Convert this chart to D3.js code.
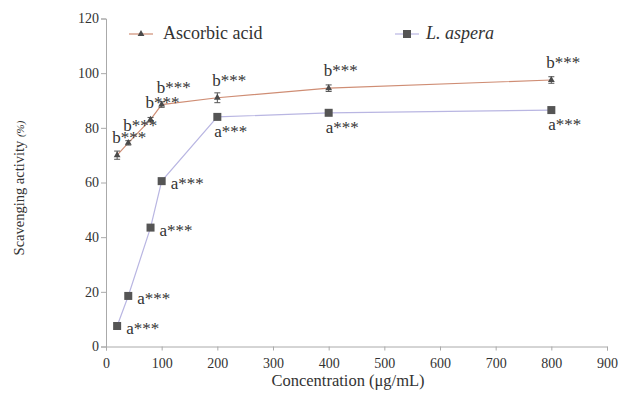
<!DOCTYPE html>
<html lang="en">
<head>
<meta charset="utf-8">
<script src="https://cdn.jsdelivr.net/npm/d3@7"></script>
<style>
  body { margin: 0; background: #fff; }
</style>
</head>
<body>
<div id="chart"></div>
<script>
"use strict";

// concentrations (ug/mL)
const concentrations = [20, 40, 80, 100, 200, 400, 800];
const ascorbicValues = [70, 74.5, 83, 88.5, 91, 94.5, 97.5];
const ascorbicErrors = [1.5, 0.8, 0.8, 1, 1.8, 1.2, 1.2];
const asperaValues   = [7.5, 18.5, 43.5, 60.5, 84, 85.5, 86.5];
const ascorbicLabels = ["b***", "b***", "b***", "b***", "b***", "b***", "b***"];
const asperaLabels   = ["a***", "a***", "a***", "a***", "a***", "a***", "a***"];
const xTicks = [0, 100, 200, 300, 400, 500, 600, 700, 800, 900];
const yTicks = [0, 20, 40, 60, 80, 100, 120];

const FONT = "'Liberation Serif', 'Times New Roman', 'DejaVu Serif', serif";
const width = 621, height = 395;
const margin = {top: 18.5, right: 14, bottom: 48.5, left: 106};

const svg = d3.select("#chart").append("svg")
  .attr("width", width).attr("height", height)
  .style("font-family", FONT);

const x = d3.scaleLinear().domain([0, 900]).range([margin.left, width - margin.right]);
const y = d3.scaleLinear().domain([0, 120]).range([height - margin.bottom, margin.top]);

// axes
const xAxis = svg.append("g")
  .attr("transform", `translate(0,${y(0)})`)
  .call(d3.axisBottom(x).tickValues(xTicks).tickSize(4).tickPadding(8));
const yAxis = svg.append("g")
  .attr("transform", `translate(${x(0)},0)`)
  .call(d3.axisLeft(y).tickValues(yTicks).tickSize(5).tickPadding(2));

[xAxis, yAxis].forEach(g => {
  g.attr("font-family", null);
  g.select(".domain").attr("stroke", "#aaa");
  g.selectAll(".tick line").attr("stroke", "#aaa");
  g.selectAll(".tick text").attr("font-size", 14)
    .style("font-family", FONT).attr("fill", "#333");
});

svg.append("text")
  .attr("x", 348).attr("y", 386)
  .attr("text-anchor", "middle").attr("font-size", 16.5).attr("fill", "#333")
  .style("font-family", FONT)
  .text("Concentration (μg/mL)");

const yl = svg.append("text")
  .attr("transform", "translate(24,188) rotate(-90)")
  .attr("text-anchor", "middle").attr("font-size", 14.5).attr("fill", "#333")
  .style("font-family", FONT);
yl.append("tspan").text("Scavenging activity ");
yl.append("tspan").attr("font-size", 11).attr("font-style", "italic").text("(%)");

const line = d3.line().x(d => x(d[0])).y(d => y(d[1]));

const ascData = concentrations.map((c, i) => [c, ascorbicValues[i]]);
const aspData = concentrations.map((c, i) => [c, asperaValues[i]]);

svg.append("path").datum(aspData)
  .attr("d", line).attr("fill", "none")
  .attr("stroke", "#b9b6e2").attr("stroke-width", 1.2);

svg.append("path").datum(ascData)
  .attr("d", line).attr("fill", "none")
  .attr("stroke", "#cf8d74").attr("stroke-width", 1.2);

// error bars for ascorbic acid
const eb = svg.append("g").attr("stroke", "#555").attr("stroke-width", 1);
ascData.forEach((d, i) => {
  const e = ascorbicErrors[i];
  const cx = x(d[0]);
  eb.append("line").attr("x1", cx).attr("x2", cx).attr("y1", y(d[1] - e)).attr("y2", y(d[1] + e));
  eb.append("line").attr("x1", cx - 3).attr("x2", cx + 3).attr("y1", y(d[1] + e)).attr("y2", y(d[1] + e));
  eb.append("line").attr("x1", cx - 3).attr("x2", cx + 3).attr("y1", y(d[1] - e)).attr("y2", y(d[1] - e));
});

const tri = d3.symbol().type(d3.symbolTriangle).size(20);
svg.append("g").selectAll("path").data(ascData).join("path")
  .attr("d", tri)
  .attr("transform", d => `translate(${x(d[0])},${y(d[1])})`)
  .attr("fill", "#4a4a4a");

svg.append("g").selectAll("rect").data(aspData).join("rect")
  .attr("x", d => x(d[0]) - 4).attr("y", d => y(d[1]) - 4)
  .attr("width", 8).attr("height", 8)
  .attr("fill", "#555");

// significance labels
svg.append("g").selectAll("text").data(ascData).join("text")
  .attr("x", d => x(d[0]) - 5)
  .attr("y", d => y(d[1]) - 12)
  .attr("font-size", 17).attr("fill", "#333")
  .text((d, i) => ascorbicLabels[i]);

svg.append("g").selectAll("text").data(aspData).join("text")
  .attr("x", d => d[0] <= 100 ? x(d[0]) + 9 : x(d[0]) - 3)
  .attr("y", d => d[0] <= 100 ? y(d[1]) + 8 : y(d[1]) + 20)
  .attr("font-size", 17).attr("fill", "#333")
  .text((d, i) => asperaLabels[i]);

// legend
const leg = svg.append("g");
leg.append("line").attr("x1", 129).attr("x2", 153).attr("y1", 34).attr("y2", 34)
  .attr("stroke", "#cf8d74").attr("stroke-width", 1.2);
leg.append("path").attr("d", tri).attr("transform", "translate(141,34)").attr("fill", "#4a4a4a");
leg.append("text").attr("x", 163).attr("y", 39).attr("font-size", 18).attr("fill", "#333")
  .text("Ascorbic acid");

leg.append("line").attr("x1", 395).attr("x2", 419).attr("y1", 34).attr("y2", 34)
  .attr("stroke", "#b9b6e2").attr("stroke-width", 1.2);
leg.append("rect").attr("x", 403).attr("y", 30).attr("width", 8).attr("height", 8).attr("fill", "#555");
leg.append("text").attr("x", 426).attr("y", 39).attr("font-size", 18).attr("fill", "#333")
  .attr("font-style", "italic").text("L. aspera");
</script>
</body>
</html>
